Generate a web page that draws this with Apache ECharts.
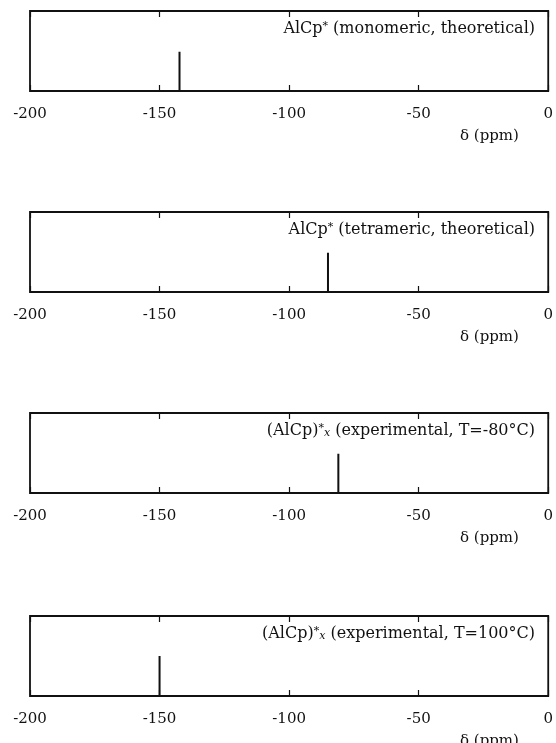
<!DOCTYPE html>
<html>
<head>
<meta charset="utf-8">
<script src="https://cdn.jsdelivr.net/npm/echarts@6/dist/echarts.min.js"></script>
<style>
  html, body { margin: 0; padding: 0; background: #fff; }
  #main { width: 556px; height: 743px; }
</style>
</head>
<body>
<div id="main"></div>
<script>
// chemical shift axis, ppm
const xMin = -200;
const xMax = 0;
const xStep = 50;

// one spectrum per panel, top to bottom
const panelLabels = [
  'AlCp{sup|*} (monomeric, theoretical)',
  'AlCp{sup|*} (tetrameric, theoretical)',
  '(AlCp){sup|*}{sub|x} (experimental, T=-80°C)',
  '(AlCp){sup|*}{sub|x} (experimental, T=100°C)',
];
const peakShifts = [-142.3, -85, -81, -150];
const peakHeights = [0.49, 0.49, 0.49, 0.5];
const axisTitle = 'δ (ppm)';

const ink = '#111';
const font = 'DejaVu Serif';
const panelTops = [11, 212, 413, 616];
const panelHeight = 80;

const chartDom = document.getElementById('main');
const myChart = echarts.init(chartDom);

const grid = [];
const xAxis = [];
const yAxis = [];
const series = [];
const graphic = [];

panelTops.forEach((top, i) => {
  grid.push({
    left: 30,
    right: 3,
    top: top,
    height: panelHeight,
    show: true,
    borderColor: ink,
    borderWidth: 1.8,
  });
  // bottom axis with labels
  xAxis.push({
    type: 'value',
    gridIndex: i,
    position: 'bottom',
    min: xMin,
    max: xMax,
    interval: xStep,
    axisLine: { show: false },
    axisTick: { inside: true, length: 6, lineStyle: { color: ink, width: 1.2 } },
    splitLine: { show: false },
    axisLabel: {
      fontFamily: font,
      fontSize: 15,
      color: ink,
      margin: 16,
      formatter: (v) => String(v),
    },
  });
  // top axis, ticks only
  xAxis.push({
    type: 'value',
    gridIndex: i,
    position: 'top',
    min: xMin,
    max: xMax,
    interval: xStep,
    axisLine: { show: false },
    axisTick: { inside: true, length: 6, lineStyle: { color: ink, width: 1.2 } },
    splitLine: { show: false },
    axisLabel: { show: false },
  });
  yAxis.push({
    type: 'value',
    gridIndex: i,
    min: 0,
    max: 1,
    show: false,
  });

  const p = peakShifts[i];
  const h = peakHeights[i];
  series.push({
    type: 'line',
    xAxisIndex: i * 2,
    yAxisIndex: i,
    data: [[xMin, 0], [p, 0], [p, h], [p, 0], [xMax, 0]],
    showSymbol: false,
    symbol: 'none',
    silent: true,
    lineStyle: { color: ink, width: 2 },
  });

  graphic.push({
    type: 'text',
    right: 21,
    top: top + 10,
    style: {
      text: panelLabels[i],
      fontFamily: font,
      fontSize: 16,
      fill: ink,
      rich: {
        sup: { fontFamily: font, fontSize: 11, fill: ink, verticalAlign: 'top' },
        sub: { fontFamily: font, fontSize: 11, fontStyle: 'italic', fill: ink, verticalAlign: 'bottom' },
      },
    },
  });
  graphic.push({
    type: 'text',
    left: 460,
    top: top + panelHeight + 38,
    style: {
      text: axisTitle,
      fontFamily: font,
      fontSize: 15,
      fill: ink,
    },
  });
});

const option = {
  animation: false,
  backgroundColor: '#fff',
  grid,
  xAxis,
  yAxis,
  series,
  graphic,
};

option && myChart.setOption(option);
</script>
</body>
</html>
